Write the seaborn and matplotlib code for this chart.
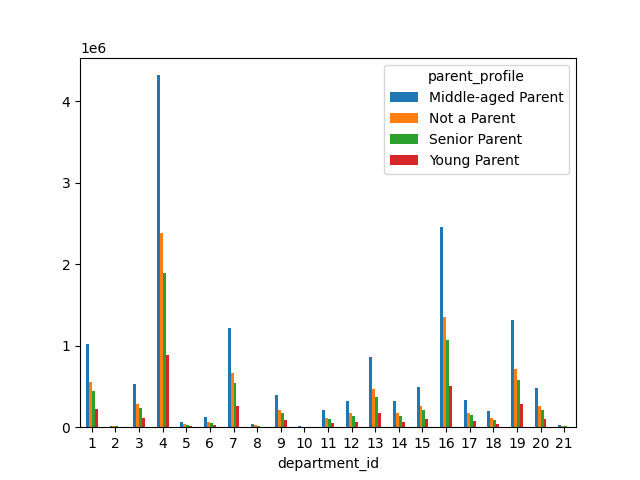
import matplotlib
matplotlib.use("Agg")
import matplotlib.pyplot as plt
import pandas as pd
import seaborn as sns

departments = list(range(1, 22))
middle_aged = [1020000, 20000, 530000, 4320000, 65000, 125000, 1220000, 40000, 400000, 15000, 215000,
               320000, 860000, 320000, 490000, 2460000, 330000, 200000, 1320000, 480000, 25000]
not_parent = [560000, 11000, 290000, 2380000, 35000, 68000, 670000, 22000, 215000, 8000, 118000,
              175000, 470000, 175000, 265000, 1350000, 180000, 108000, 720000, 265000, 14000]
senior = [450000, 9000, 235000, 1890000, 28000, 55000, 540000, 17000, 175000, 6000, 95000,
          140000, 375000, 140000, 215000, 1075000, 145000, 87000, 575000, 210000, 11000]
young = [220000, 4000, 115000, 890000, 14000, 27000, 260000, 8000, 85000, 3000, 46000,
         68000, 180000, 68000, 105000, 510000, 70000, 42000, 280000, 100000, 5000]

profiles = ['Middle-aged Parent', 'Not a Parent', 'Senior Parent', 'Young Parent']
series = [middle_aged, not_parent, senior, young]

rows = []
for name, vals in zip(profiles, series):
    for d, v in zip(departments, vals):
        rows.append({'department_id': d, 'parent_profile': name, 'count': v})
df = pd.DataFrame(rows)

fig, ax = plt.subplots(figsize=(6.4, 4.8), dpi=100)
sns.barplot(data=df, x='department_id', y='count', hue='parent_profile',
            palette=['#1f77b4', '#ff7f0e', '#2ca02c', '#d62728'],
            width=0.5, saturation=1, ax=ax)
ax.set_ylabel('')
ax.set_xlabel('department_id')
ax.legend(title='parent_profile', loc='upper right')
plt.savefig('out.png')
